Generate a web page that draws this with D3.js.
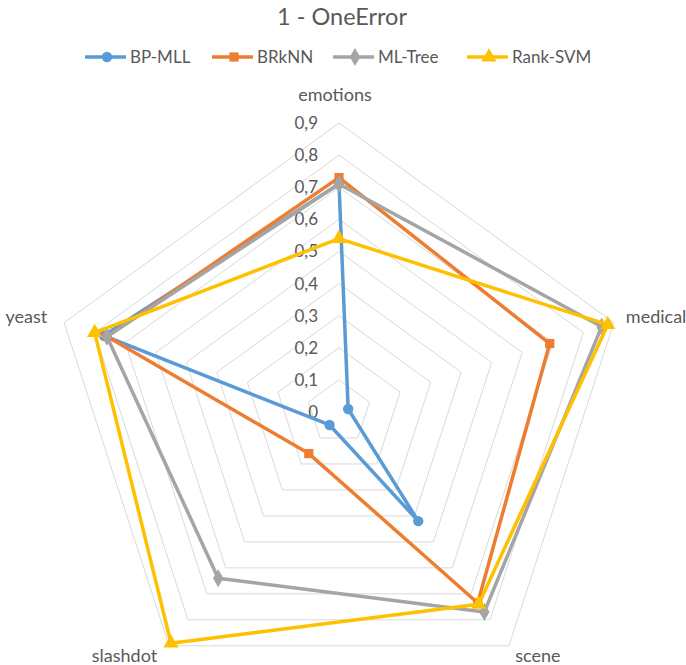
<!DOCTYPE html>
<html><head><meta charset="utf-8">
<script src="https://cdn.jsdelivr.net/npm/d3@7"></script>
<style>body{margin:0;background:#fff}svg{display:block}text{font-family:Lato,"Open Sans",sans-serif}</style>
</head><body>
<script>
const categories = ["emotions","medical","scene","slashdot","yeast"];
const seriesNames = ["BP-MLL","BRkNN","ML-Tree","Rank-SVM"];
const bpmll   = [0.71, 0.03, 0.42, 0.05, 0.77];
const brknn   = [0.73, 0.69, 0.735, 0.16, 0.76];
const mltree  = [0.71, 0.86, 0.77, 0.64, 0.76];
const ranksvm = [0.54, 0.88, 0.74, 0.89, 0.80];
const tickValues = [0,0.1,0.2,0.3,0.4,0.5,0.6,0.7,0.8,0.9];
const tickLabels = ["0","0,1","0,2","0,3","0,4","0,5","0,6","0,7","0,8","0,9"];
const colors = ["#5B9BD5","#ED7D31","#A5A5A5","#FFC000"];
const symbols = [d3.symbolCircle, d3.symbolSquare, d3.symbolDiamond, d3.symbolTriangle];
const allSeries = [bpmll, brknn, mltree, ranksvm];

const W=686,H=665, cx=339, cy=412;
const svg=d3.select("body").append("svg").attr("width",W).attr("height",H);
const r=d3.scaleLinear().domain([0,0.9]).range([0,289]);
const ang=d3.scaleLinear().domain([0,categories.length]).range([0,2*Math.PI]);
const pt=(i,v)=>[cx+r(v)*Math.sin(ang(i)), cy-r(v)*Math.cos(ang(i))];

svg.append("text").attr("x",342).attr("y",25).attr("text-anchor","middle")
  .attr("font-size",23.5).attr("fill","#595959").text("1 - OneError");

// grid
const g=svg.append("g");
tickValues.slice(1).forEach(t=>{
  g.append("polygon").attr("points",categories.map((c,i)=>pt(i,t).join(",")).join(" "))
   .attr("fill","none").attr("stroke","#d9d9d9").attr("stroke-width",1);
});
// tick labels
tickValues.forEach((t,k)=>{
  svg.append("text").attr("x",cx-21).attr("y",cy-r(t)+6).attr("text-anchor","end")
   .attr("font-size",17).attr("fill","#595959").text(tickLabels[k]);
});
// category labels
const labPos=[{dx:-4,dy:-22,a:"middle"},{dx:12,dy:0,a:"start"},{dx:29,dy:16,a:"middle"},{dx:-12,dy:16,a:"end"},{dx:-17,dy:0,a:"end"}];
categories.forEach((c,i)=>{
  const p=pt(i,0.9), L=labPos[i];
  svg.append("text").attr("x",p[0]+L.dx).attr("y",p[1]+L.dy).attr("text-anchor",L.a)
   .attr("font-size",18).attr("fill","#595959").text(c);
});
// series
const line=d3.line().curve(d3.curveLinearClosed);
const symSize=k=>k===2?95:k===3?100:85;
allSeries.forEach((s,k)=>{
  const pts=s.map((v,i)=>pt(i,v));
  svg.append("path").attr("d",line(pts)).attr("fill","none").attr("stroke",colors[k])
    .attr("stroke-width",3.5).attr("stroke-linejoin","round");
  pts.forEach(p=>{
    svg.append("path").attr("d",d3.symbol().type(symbols[k]).size(symSize(k))())
      .attr("transform",`translate(${p[0]},${p[1]})`).attr("fill",colors[k]);
  });
});
// legend
const legX=[85,212,333,467];
seriesNames.forEach((n,k)=>{
  const x=legX[k], y=57;
  svg.append("line").attr("x1",x).attr("x2",x+41).attr("y1",y).attr("y2",y)
    .attr("stroke",colors[k]).attr("stroke-width",3.5);
  svg.append("path").attr("d",d3.symbol().type(symbols[k]).size(symSize(k))())
    .attr("transform",`translate(${x+22},${y})`).attr("fill",colors[k]);
  svg.append("text").attr("x",x+45).attr("y",y+6).attr("font-size",17)
    .attr("fill","#595959").text(n);
});
</script>
</body></html>
